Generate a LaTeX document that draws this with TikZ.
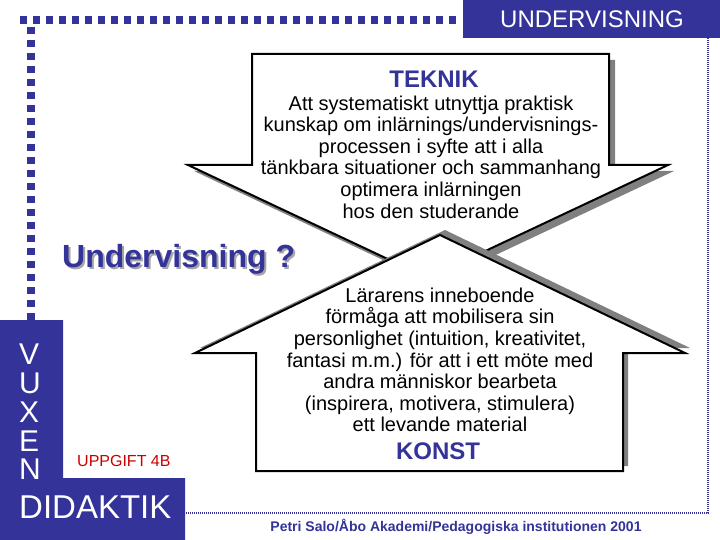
\documentclass[tikz,border=0pt]{standalone}
\usepackage{fontspec}
\setmainfont{Liberation Sans}
\definecolor{navy}{RGB}{51,51,153}
\definecolor{shade}{RGB}{128,128,128}
\definecolor{redtxt}{RGB}{204,0,0}
\tikzset{
  arrowshape/.style={draw=black,line width=2pt,fill=white,line join=miter},
  shadowshape/.style={fill=shade,draw=none},
  bodytext/.style={inner sep=0pt,align=center,font=\fontsize{20}{21.6}\selectfont},
  headtext/.style={inner sep=0pt,text=navy,font=\fontsize{24}{26}\selectfont\bfseries},
  whitetext/.style={inner sep=0pt,text=white},
  squares/.style={navy,line width=8pt,dash pattern=on 7pt off 6pt},
  fineborder/.style={navy,line width=2pt,dash pattern=on 1pt off 1pt}
}
\begin{document}
\begin{tikzpicture}[x=1pt,y=-1pt]
\useasboundingbox[fill=white] (0,0) rectangle (720,540);

% frame
\draw[squares] (20,20) -- (462,20);
\draw[squares] (31,27) -- (31,322);
\draw[fineborder] (708,38) -- (708,513) -- (185,513);
\fill[navy] (463,0) rectangle (720,38);
\node[whitetext,font=\fontsize{24}{26}\selectfont] (und) at (592,19) {UNDERVISNING};

% left block
\fill[navy] (0,320) -- (63,320) -- (63,478) -- (185,478) -- (185,540) -- (0,540) -- cycle;
\node[whitetext,anchor=west,font=\fontsize{30}{28.7}\selectfont,align=left] (vuxen) at (19,412) {V\\U\\X\\E\\N};
\node[whitetext,anchor=west,font=\fontsize{33}{36}\selectfont] (didaktik) at (19,507) {DIDAKTIK};
\node[inner sep=0pt,text=redtxt,anchor=west,font=\fontsize{16}{18}\selectfont] (uppgift) at (77,461) {UPPGIFT 4B};

% title with shadow
\node[inner sep=0pt,anchor=west,text=navy,font=\fontsize{32}{36}\selectfont\bfseries] (title) at (62,260)
  {\makebox[0pt][l]{\hspace{2pt}\raisebox{-2pt}{\textcolor{shade!70}{Undervisning ?}}}Undervisning ?};

% down arrow (TEKNIK)
\fill[shadowshape,shift={(6,6)}] (252,54) -- (609,54) -- (609,165) -- (668,165) -- (428,278) -- (188,165) -- (252,165) -- cycle;
\draw[arrowshape] (252,54) -- (609,54) -- (609,165) -- (668,165) -- (428,278) -- (188,165) -- (252,165) -- cycle;
\node[headtext] (teknik) at (434,79) {TEKNIK};
\node[bodytext] (teknikbody) at (431,157) {Att systematiskt utnyttja praktisk\\kunskap om inlärnings/undervisnings-\\processen i syfte att i alla\\tänkbara situationer och sammanhang\\optimera inlärningen\\hos den studerande};

% up arrow (KONST)
\fill[shadowshape,shift={(5,-5)}] (440,235) -- (685,353) -- (623,353) -- (623,471) -- (256,471) -- (256,353) -- (195,353) -- cycle;
\draw[arrowshape] (440,235) -- (685,353) -- (623,353) -- (623,471) -- (256,471) -- (256,353) -- (195,353) -- cycle;
\node[bodytext] (konstbody) at (440,360) {Lärarens inneboende\\förmåga att mobilisera sin\\personlighet (intuition, kreativitet,\\fantasi m.m.) för att i ett möte med\\andra människor bearbeta\\(inspirera, motivera, stimulera)\\ett levande material};
\node[headtext] (konst) at (438,451) {KONST};

% footer
\node[inner sep=0pt,text=navy,font=\fontsize{14}{16}\selectfont\bfseries] (footer) at (456,527) {Petri Salo/Åbo Akademi/Pedagogiska institutionen 2001};
\end{tikzpicture}
\end{document}
